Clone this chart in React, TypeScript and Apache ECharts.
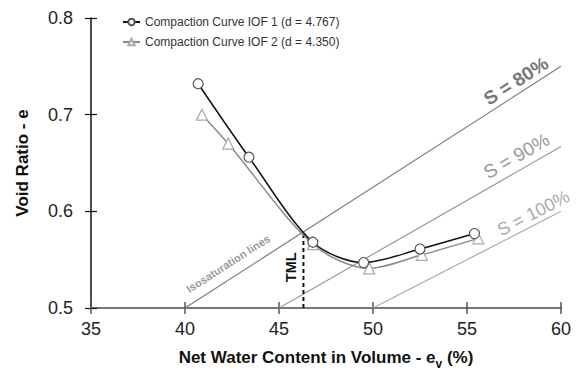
import React, { useEffect, useRef } from "react";
import * as echarts from "echarts";

// Compaction curves (net water content in volume ev %, void ratio e)
const evIOF1 = [40.7, 43.4, 46.8, 49.5, 52.5, 55.4];
const eIOF1 = [0.732, 0.656, 0.568, 0.547, 0.561, 0.577];
const evIOF2 = [40.9, 42.3, 46.8, 49.8, 52.6, 55.6];
const eIOF2 = [0.700, 0.670, 0.566, 0.541, 0.555, 0.572];

const seriesNames = [
  "Compaction Curve IOF 1 (d = 4.767)",
  "Compaction Curve IOF 2 (d = 4.350)",
];

// Isosaturation lines
const isoLabels = ["S = 80%", "S = 90%", "S = 100%"];
const isoStartEv = [40, 45, 50];
const isoStartE = [0.5, 0.5, 0.5];
const isoEndEv = [60, 60, 60];
const isoEndE = [0.75, 0.667, 0.6];

// Transportable moisture limit
const tmlEv = 46.3;
const tmlE = [0.5, 0.578];

const xTicks = [35, 40, 45, 50, 55, 60];
const yTicks = [0.5, 0.6, 0.7, 0.8];

export default function App() {
  const ref = useRef<HTMLDivElement>(null);
  useEffect(() => {
    const chart = echarts.init(ref.current!, null, { renderer: "svg" });
    const font = "Arial, 'Liberation Sans', sans-serif";
    const isoColors = ["#7a7a7a", "#9a9a9a", "#aaaaaa"];
    const xBase = {
      type: "value",
      min: xTicks[0],
      max: xTicks[xTicks.length - 1],
      interval: 5,
      position: "bottom",
      splitLine: { show: false },
    };
    const yBase = {
      type: "value",
      min: yTicks[0],
      max: yTicks[yTicks.length - 1],
      interval: 0.1,
      position: "left",
      splitLine: { show: false },
    };
    const option: any = {
      animation: false,
      backgroundColor: "#ffffff",
      textStyle: { fontFamily: font },
      grid: { left: 91, right: 16, top: 18, bottom: 64, containLabel: false },
      legend: {
        data: seriesNames,
        orient: "vertical",
        left: 122,
        top: 16,
        padding: 0,
        itemGap: 8,
        itemWidth: 17,
        itemHeight: 8,
        textStyle: { fontSize: 12, color: "#333", fontFamily: font },
      },
      xAxis: [
        {
          ...xBase,
          axisLine: { show: true, lineStyle: { color: "#777", width: 2 } },
          axisTick: { show: true, inside: false, length: 6, lineStyle: { color: "#555", width: 1.5 } },
          axisLabel: { fontSize: 18, color: "#222", margin: 12, fontFamily: font },
          name: "Net Water Content in Volume - e{sub|v} (%)",
          nameLocation: "middle",
          nameGap: 36,
          nameTextStyle: {
            fontSize: 17,
            fontWeight: "bold",
            color: "#111",
            fontFamily: font,
            rich: {
              sub: { fontSize: 12, fontWeight: "bold", color: "#111", verticalAlign: "bottom", lineHeight: 26, fontFamily: font },
            },
          },
        },
        {
          ...xBase,
          axisLine: { show: false },
          axisTick: { show: true, inside: true, length: 6, lineStyle: { color: "#555", width: 1.5 } },
          axisLabel: { show: false },
        },
      ],
      yAxis: [
        {
          ...yBase,
          axisLine: { show: true, lineStyle: { color: "#111", width: 1.5 } },
          axisTick: { show: true, inside: false, length: 6, lineStyle: { color: "#111", width: 1.2 } },
          axisLabel: {
            fontSize: 18,
            color: "#222",
            margin: 18,
            fontFamily: font,
            formatter: (v: number) => v.toFixed(1),
          },
          name: "Void Ratio - e",
          nameLocation: "middle",
          nameGap: 60,
          nameRotate: 90,
          nameTextStyle: { fontSize: 17, fontWeight: "bold", color: "#111", fontFamily: font },
        },
        {
          ...yBase,
          axisLine: { show: false },
          axisTick: { show: true, inside: true, length: 6, lineStyle: { color: "#111", width: 1.2 } },
          axisLabel: { show: false },
        },
      ],
      series: [
        {
          name: seriesNames[0],
          type: "line",
          data: evIOF1.map((x, i) => [x, eIOF1[i]]),
          smooth: 0.3,
          symbol: "circle",
          symbolSize: 10,
          lineStyle: { color: "#111", width: 1.5 },
          itemStyle: { color: "#ffffff", borderColor: "#555", borderWidth: 1.2 },
          z: 5,
        },
        {
          name: seriesNames[1],
          type: "line",
          data: evIOF2.map((x, i) => [x, eIOF2[i]]),
          smooth: 0.3,
          symbol: "triangle",
          symbolSize: 11,
          lineStyle: { color: "#8a8a8a", width: 1.5 },
          itemStyle: { color: "#ffffff", borderColor: "#aaa", borderWidth: 1.2 },
          z: 4,
        },
        ...isoLabels.map((lab, i) => ({
          name: lab,
          type: "line",
          data: [
            [isoStartEv[i], isoStartE[i]],
            [isoEndEv[i], isoEndE[i]],
          ],
          symbol: "none",
          lineStyle: { color: isoColors[i], width: 1.2 },
          z: 2,
          silent: true,
        })),
        {
          name: "TML",
          type: "line",
          data: [
            [tmlEv, tmlE[0]],
            [tmlEv, tmlE[1]],
          ],
          symbol: "none",
          lineStyle: { color: "#111", width: 2, type: [4, 3] },
          z: 3,
          silent: true,
        },
      ],
    };
    chart.setOption(option);

    const px = (x: number, y: number) => chart.convertToPixel({ seriesIndex: 0 }, [x, y]) as number[];
    const labelAt = (i: number, xData: number, off: number) => {
      const p0 = px(isoStartEv[i], isoStartE[i]);
      const p1 = px(isoEndEv[i], isoEndE[i]);
      const ang = Math.atan2(p0[1] - p1[1], p1[0] - p0[0]);
      const t = (xData - isoStartEv[i]) / (isoEndEv[i] - isoStartEv[i]);
      const bx = p0[0] + (p1[0] - p0[0]) * t;
      const by = p0[1] + (p1[1] - p0[1]) * t;
      return { x: bx - Math.sin(ang) * off, y: by - Math.cos(ang) * off, rotation: ang };
    };
    const isoText = (i: number, xData: number, off: number, text: string, fontCss: string, fill: string) => {
      const p = labelAt(i, xData, off);
      return {
        type: "text",
        x: p.x,
        y: p.y,
        rotation: p.rotation,
        silent: true,
        z: 10,
        style: { text, font: fontCss, fill, align: "center", verticalAlign: "middle" },
      };
    };
    const tmlMid = px(tmlEv, (tmlE[0] + tmlE[1]) / 2);
    chart.setOption({
      graphic: [
        isoText(0, 57.95, 12, isoLabels[0], `bold 19px ${font}`, "#777"),
        isoText(1, 58.0, 14, isoLabels[1], `19px ${font}`, "#999"),
        isoText(2, 58.8, 11, isoLabels[2], `18px ${font}`, "#aaa"),
        isoText(0, 42.7, 14, "Isosaturation lines", `bold 11px ${font}`, "#999"),
        {
          type: "text",
          x: tmlMid[0] - 12,
          y: tmlMid[1] - 3,
          rotation: Math.PI / 2,
          silent: true,
          z: 10,
          style: { text: "TML", font: `bold 14.5px ${font}`, fill: "#111", align: "center", verticalAlign: "middle" },
        },
      ],
    });
    return () => chart.dispose();
  }, []);
  return (
    <div
      ref={ref}
      style={{ position: "fixed", left: 0, top: 0, width: 577, height: 375, background: "#fff" }}
    />
  );
}
